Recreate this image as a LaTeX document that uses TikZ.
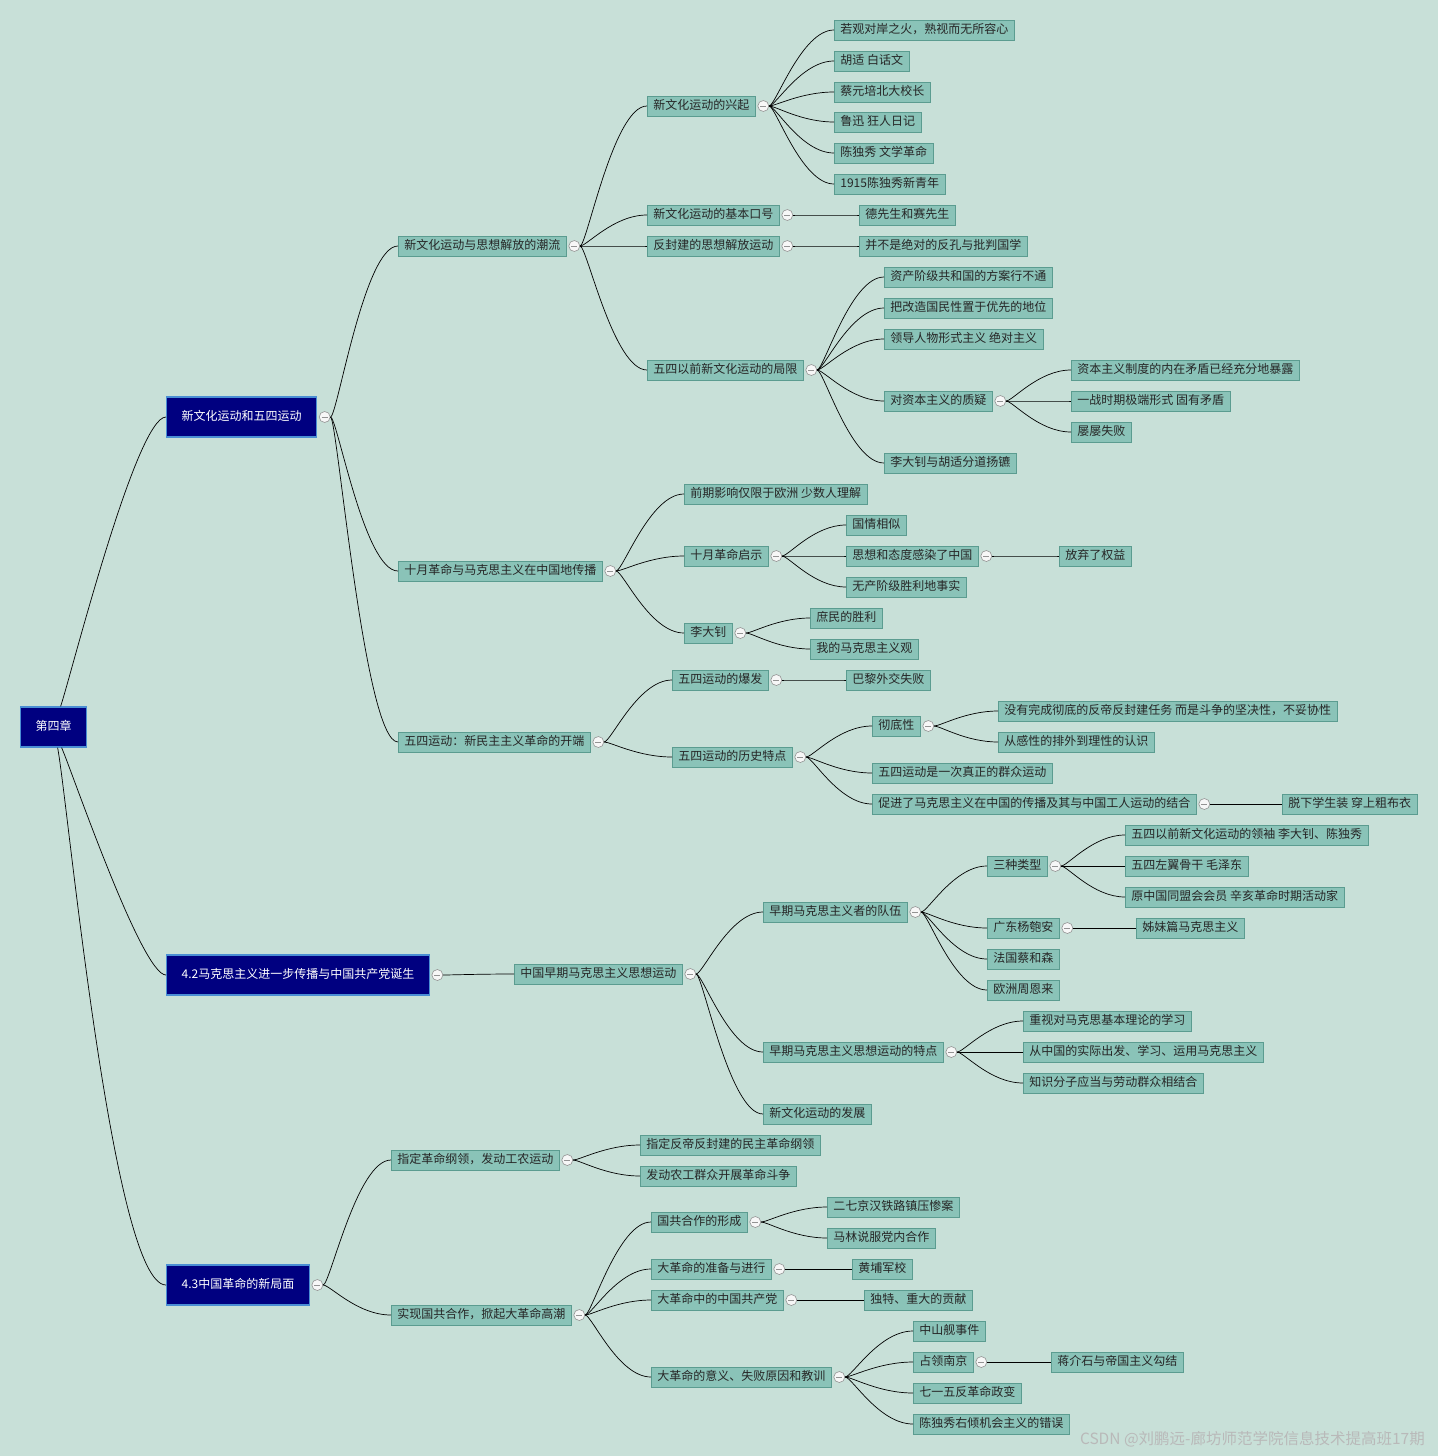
\documentclass[tikz,border=0pt]{standalone}
\usepackage{fontspec}
\setmainfont{Noto Sans CJK SC}
\usetikzlibrary{calc}
\definecolor{mmbg}{HTML}{C8E0D8}
\definecolor{mmfill}{HTML}{8AC3B8}
\definecolor{mmline}{HTML}{5B9C90}
\definecolor{mmnavy}{HTML}{000080}
\definecolor{mmedge}{HTML}{4A8ED4}
\tikzset{
  topic/.style={draw=mmline, fill=mmfill, anchor=west, text=black!85,
    font=\fontsize{12}{14}\selectfont, inner xsep=6pt, inner ysep=0pt,
    text height=9.5pt, text depth=2.5pt, minimum height=20pt, line width=0.8pt},
  chapter/.style={draw=mmedge, fill=mmnavy, anchor=west, text=white,
    font=\fontsize{12}{14}\selectfont, inner xsep=15pt, inner ysep=0pt,
    text height=9.5pt, text depth=2.5pt, minimum height=40pt, line width=1.2pt},
  foldmark/.style={circle, draw=gray!85, fill=gray!6, minimum size=11pt,
    inner sep=0pt, line width=0.6pt,
    path picture={\draw[line width=0.8pt]
      ([xshift=-3pt]path picture bounding box.center) --
      ([xshift=3pt]path picture bounding box.center);}},
  link/.style={line width=0.7pt, to path={let \p1=(\tikztostart), \p2=(\tikztotarget) in
    .. controls ({\x1+0.1*(\x2-\x1)},\y1) and ({0.5*(\x1+\x2)},\y2) .. (\tikztotarget) \tikztonodes}},
  rootlink/.style={line width=0.7pt, looseness=0.25},
}
\newcommand{\mmtopic}[4]{\node[topic] (#1) at (#2,#3) {#4};}
\newcommand{\mmfold}[1]{\node[foldmark] (#1-f) at ([xshift=7.5pt]#1.east) {};}
\newcommand{\mmlink}[2]{\draw[link] (#1-f.east) to (#2.west);}
\newcommand{\mmleaves}[3]{% parent, x, list of key/y/text
  \foreach \k/\y/\t in {#3} {\mmtopic{#1\k}{#2}{\y}{\t} \mmlink{#1}{#1\k}}}

\begin{document}
\begin{tikzpicture}[x=1pt, y=-1pt]
  \fill[mmbg] (0,0) rectangle (1438,1456);
  \useasboundingbox (0,0) rectangle (1438,1456);

  % chapter and its three parts
  \node[chapter] (root) at (20,727) {第四章};
  \node[chapter] (n1) at (166,417) {新文化运动和五四运动};
  \node[chapter] (n2) at (166,975) {4.2马克思主义进一步传播与中国共产党诞生};
  \node[chapter] (n3) at (166,1285) {4.3中国革命的新局面};
  \draw[rootlink] ([xshift=7pt]root.north) to[out=71, in=180] (n1.west);
  \draw[rootlink] ([xshift=8pt]root.south) to[out=-66, in=180] (n2.west);
  \draw[rootlink] ([xshift=4pt]root.south) to[out=-79, in=180] (n3.west);
  \mmfold{n1} \mmfold{n2} \mmfold{n3}

  % 新文化运动和五四运动
  \mmtopic{n11}{398}{246}{新文化运动与思想解放的潮流}
  \mmtopic{n12}{398}{571}{十月革命与马克思主义在中国地传播}
  \mmtopic{n13}{398}{742}{五四运动：新民主主义革命的开端}
  \mmlink{n1}{n11} \mmlink{n1}{n12} \mmlink{n1}{n13}
  \mmfold{n11} \mmfold{n12} \mmfold{n13}

  \mmtopic{n111}{647}{106}{新文化运动的兴起}
  \mmtopic{n112}{647}{215}{新文化运动的基本口号}
  \mmtopic{n113}{647}{246}{反封建的思想解放运动}
  \mmtopic{n114}{647}{370}{五四以前新文化运动的局限}
  \foreach \c in {n111,n112,n113,n114} {\mmlink{n11}{\c} \mmfold{\c}}
  \mmleaves{n111}{834}{a/30/若观对岸之火，熟视而无所容心, b/61/胡适 白话文,
    c/92/蔡元培北大校长, d/122/鲁迅 狂人日记, e/153/陈独秀 文学革命, f/184/1915陈独秀新青年}
  \mmleaves{n112}{859}{a/215/德先生和赛先生}
  \mmleaves{n113}{859}{a/246/并不是绝对的反孔与批判国学}
  \mmleaves{n114}{884}{a/277/资产阶级共和国的方案行不通, b/308/把改造国民性置于优先的地位,
    c/339/领导人物形式主义 绝对主义, d/401/对资本主义的质疑, e/463/李大钊与胡适分道扬镳}
  \mmfold{n114d}
  \mmleaves{n114d}{1071}{1/370/资本主义制度的内在矛盾已经充分地暴露,
    2/401/一战时期极端形式 固有矛盾, 3/432/屡屡失败}

  \mmleaves{n12}{684}{1/494/前期影响仅限于欧洲 少数人理解, 2/556/十月革命启示, 3/633/李大钊}
  \mmfold{n122} \mmfold{n123}
  \mmleaves{n122}{846}{a/525/国情相似, b/556/思想和态度感染了中国, c/587/无产阶级胜利地事实}
  \mmfold{n122b}
  \mmleaves{n122b}{1059}{1/556/放弃了权益}
  \mmleaves{n123}{810}{a/618/庶民的胜利, b/649/我的马克思主义观}

  \mmleaves{n13}{672}{1/680/五四运动的爆发, 2/757/五四运动的历史特点}
  \mmfold{n131} \mmfold{n132}
  \mmleaves{n131}{846}{a/680/巴黎外交失败}
  \mmleaves{n132}{872}{a/726/彻底性, b/773/五四运动是一次真正的群众运动,
    c/804/促进了马克思主义在中国的传播及其与中国工人运动的结合}
  \mmfold{n132a} \mmfold{n132c}
  \mmleaves{n132a}{998}{1/711/没有完成彻底的反帝反封建任务 而是斗争的坚决性，不妥协性,
    2/742/从感性的排外到理性的认识}
  \mmleaves{n132c}{1282}{1/804/脱下学生装 穿上粗布衣}

  % 4.2
  \mmleaves{n2}{514}{1/974/中国早期马克思主义思想运动}
  \mmfold{n21}
  \mmleaves{n21}{763}{1/912/早期马克思主义者的队伍, 2/1052/早期马克思主义思想运动的特点,
    3/1114/新文化运动的发展}
  \mmfold{n211} \mmfold{n212}
  \mmleaves{n211}{987}{a/866/三种类型, b/928/广东杨匏安, c/959/法国蔡和森, d/990/欧洲周恩来}
  \mmfold{n211a} \mmfold{n211b}
  \mmleaves{n211a}{1125}{1/835/五四以前新文化运动的领袖 李大钊、陈独秀, 2/866/五四左翼骨干 毛泽东,
    3/897/原中国同盟会会员 辛亥革命时期活动家}
  \mmleaves{n211b}{1136}{1/928/姊妹篇马克思主义}
  \mmleaves{n212}{1023}{a/1021/重视对马克思基本理论的学习, b/1052/从中国的实际出发、学习、运用马克思主义,
    c/1083/知识分子应当与劳动群众相结合}

  % 4.3
  \mmleaves{n3}{391}{1/1160/指定革命纲领，发动工农运动, 2/1315/实现国共合作，掀起大革命高潮}
  \mmfold{n31} \mmfold{n32}
  \mmleaves{n31}{640}{a/1145/指定反帝反封建的民主革命纲领, b/1176/发动农工群众开展革命斗争}
  \mmleaves{n32}{651}{1/1222/国共合作的形成, 2/1269/大革命的准备与进行,
    3/1300/大革命中的中国共产党, 4/1377/大革命的意义、失败原因和教训}
  \mmfold{n321} \mmfold{n322} \mmfold{n323} \mmfold{n324}
  \mmleaves{n321}{827}{a/1207/二七京汉铁路镇压惨案, b/1238/马林说服党内合作}
  \mmleaves{n322}{852}{a/1269/黄埔军校}
  \mmleaves{n323}{864}{a/1300/独特、重大的贡献}
  \mmleaves{n324}{913}{a/1331/中山舰事件, b/1362/占领南京, c/1393/七一五反革命政变,
    d/1424/陈独秀右倾机会主义的错误}
  \mmfold{n324b}
  \mmleaves{n324b}{1051}{1/1362/蒋介石与帝国主义勾结}

  \node[anchor=east, font=\fontsize{15.5}{18}\selectfont, text=white!45!gray, inner sep=0pt]
    (mark) at (1425,1439) {CSDN @刘鹏远-廊坊师范学院信息技术提高班17期};
\end{tikzpicture}
\end{document}
